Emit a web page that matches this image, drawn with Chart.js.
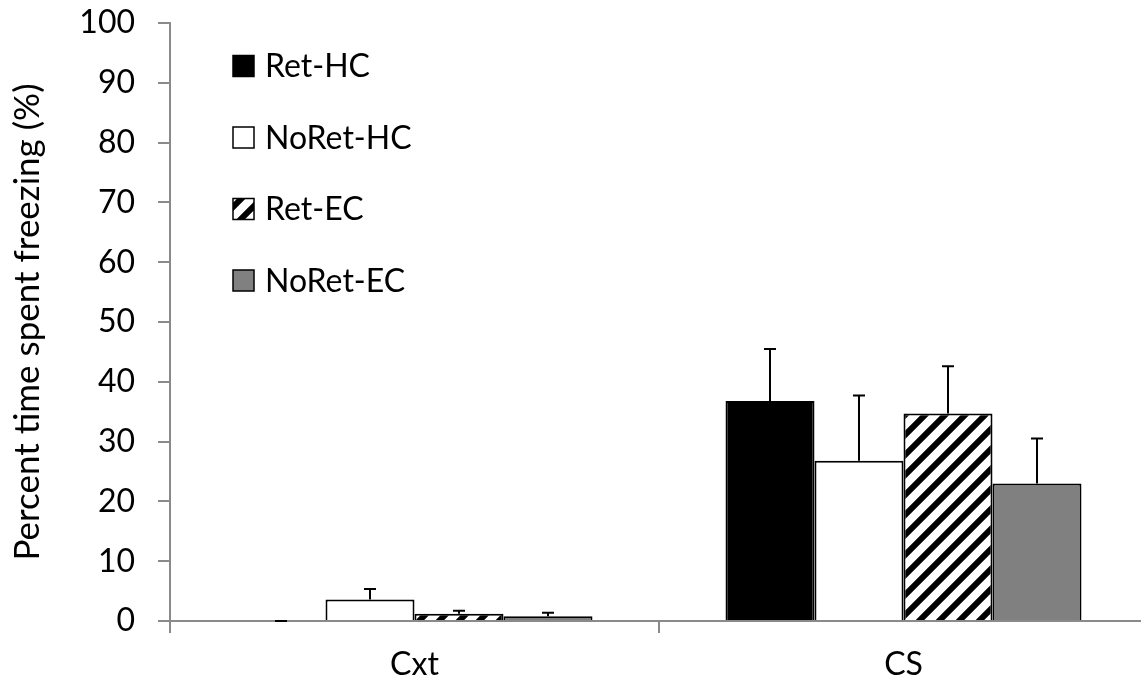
<!DOCTYPE html>
<html>
<head>
<meta charset="utf-8">
<script src="https://cdn.jsdelivr.net/npm/chart.js@4/dist/chart.umd.min.js"></script>
<style>
  html, body { margin: 0; padding: 0; background: #fff; overflow: hidden; }
  #wrap { width: 1150px; height: 696px; }
</style>
</head>
<body>
<div id="wrap"><canvas id="chart"></canvas></div>
<script>
// Data
const categories = ['Cxt', 'CS'];
const seriesNames = ['Ret-HC', 'NoRet-HC', 'Ret-EC', 'NoRet-EC'];
const retHC = [0, 36.8];
const retHCErr = [0, 8.7];
const noRetHC = [3.6, 26.8];
const noRetHCErr = [1.75, 10.9];
const retEC = [1.2, 34.7];
const retECErr = [0.5, 7.9];
const noRetEC = [0.8, 23.0];
const noRetECErr = [0.6, 7.5];

const FONT = 'Lato, "Open Sans", sans-serif';
const AXIS_GRAY = '#8a8a8a';

// diagonal "/" hatch for Ret-EC
function makeHatch() {
  const c = document.createElement('canvas');
  c.width = 20; c.height = 20;
  const g = c.getContext('2d');
  g.fillStyle = '#fff';
  g.fillRect(0, 0, 20, 20);
  g.strokeStyle = '#000';
  g.lineWidth = 6;
  g.beginPath();
  g.moveTo(-10, 10); g.lineTo(10, -10);
  g.moveTo(0, 20); g.lineTo(20, 0);
  g.moveTo(10, 30); g.lineTo(30, 10);
  g.stroke();
  return g.createPattern(c, 'repeat');
}

// error bars (upper only) drawn from the bar tops
const errorBars = {
  id: 'errorBars',
  afterDatasetsDraw(chart) {
    const ctx = chart.ctx;
    const y = chart.scales.y;
    ctx.save();
    ctx.strokeStyle = '#000';
    ctx.lineWidth = 2;
    chart.data.datasets.forEach((ds, di) => {
      const meta = chart.getDatasetMeta(di);
      meta.data.forEach((bar, i) => {
        const top = y.getPixelForValue(ds.data[i]);
        const hi = y.getPixelForValue(ds.data[i] + ds.errors[i]);
        ctx.beginPath();
        ctx.moveTo(bar.x, top);
        ctx.lineTo(bar.x, hi);
        ctx.moveTo(bar.x - 6, hi);
        ctx.lineTo(bar.x + 6, hi);
        ctx.stroke();
      });
    });
    ctx.restore();
  }
};

// legend stacked vertically inside the plot, top-left
const insideLegend = {
  id: 'insideLegend',
  afterDraw(chart) {
    const ctx = chart.ctx;
    const boxX = 233, box = 21, textX = 265;
    const firstY = 66, gap = 71.5;
    ctx.save();
    ctx.font = '32px ' + FONT;
    ctx.textBaseline = 'middle';
    chart.data.datasets.forEach((ds, i) => {
      const cy = firstY + i * gap;
      ctx.fillStyle = ds.backgroundColor;
      ctx.fillRect(boxX, cy - box / 2, box, box);
      ctx.lineWidth = 1.5;
      ctx.strokeStyle = ds.borderColor;
      ctx.strokeRect(boxX, cy - box / 2, box, box);
      ctx.fillStyle = '#000';
      ctx.fillText(ds.label, textX, cy + 1);
    });
    ctx.restore();
  }
};

const hatch = makeHatch();

new Chart(document.getElementById('chart'), {
  type: 'bar',
  data: {
    labels: categories,
    datasets: [
      { label: seriesNames[0], data: retHC, errors: retHCErr, backgroundColor: '#000', borderColor: '#000' },
      { label: seriesNames[1], data: noRetHC, errors: noRetHCErr, backgroundColor: '#fff', borderColor: '#000' },
      { label: seriesNames[2], data: retEC, errors: retECErr, backgroundColor: hatch, borderColor: '#000' },
      { label: seriesNames[3], data: noRetEC, errors: noRetECErr, backgroundColor: '#808080', borderColor: '#000' }
    ]
  },
  options: {
    responsive: true,
    maintainAspectRatio: false,
    animation: false,
    layout: { padding: { top: 23, left: 7, right: 2, bottom: 0 } },
    datasets: {
      bar: { borderWidth: 2, categoryPercentage: 0.728, barPercentage: 1.0 }
    },
    plugins: {
      legend: { display: false },
      tooltip: { enabled: false }
    },
    scales: {
      x: {
        grid: { drawOnChartArea: false, tickLength: 12, color: AXIS_GRAY, lineWidth: 2 },
        border: { color: AXIS_GRAY, width: 2 },
        ticks: { color: '#000', padding: 12, font: { family: FONT, size: 32 } },
        afterFit(scale) { scale.height = 75; }
      },
      y: {
        min: 0,
        max: 100,
        ticks: { stepSize: 10, color: '#000', padding: 23, font: { family: FONT, size: 32 } },
        grid: { drawOnChartArea: false, tickLength: 12, color: AXIS_GRAY, lineWidth: 2 },
        border: { color: AXIS_GRAY, width: 2 },
        title: {
          display: true,
          text: 'Percent time spent freezing (%)',
          color: '#000',
          padding: { top: 0, bottom: 0 },
          font: { family: FONT, size: 35 }
        },
        afterFit(scale) {
          scale.width = 163;
          // tick padding would otherwise push the plot down
          scale.paddingTop = 0;
          scale.paddingBottom = 0;
        }
      }
    }
  },
  plugins: [errorBars, insideLegend]
});
</script>
</body>
</html>
